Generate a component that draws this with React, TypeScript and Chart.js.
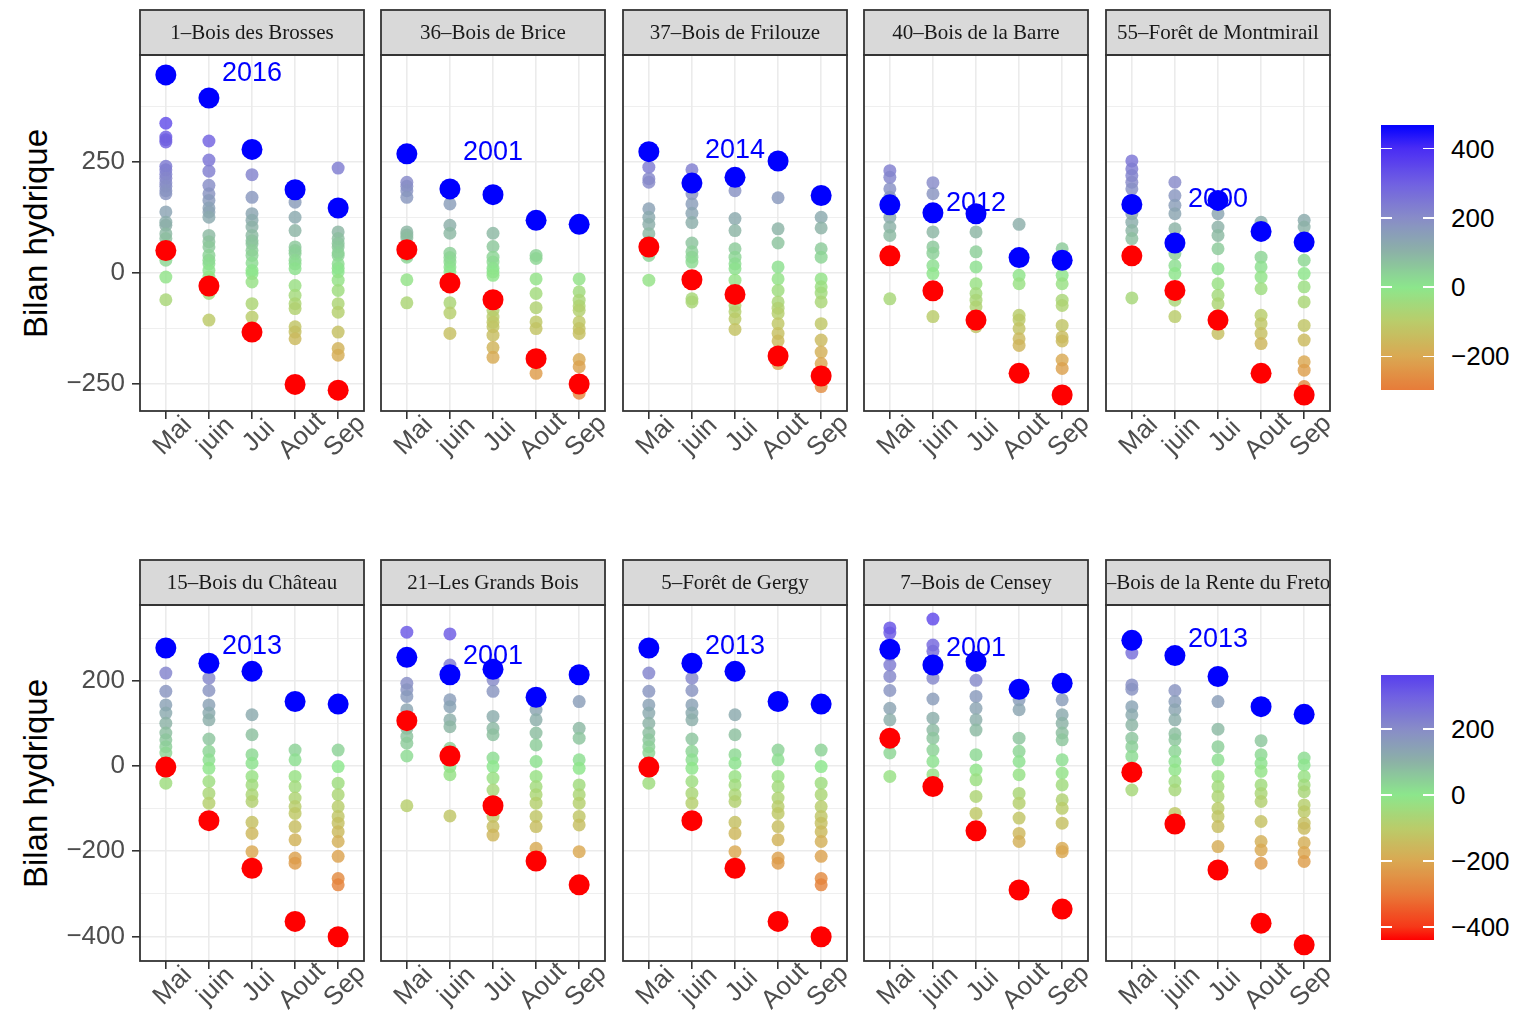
import React, { useEffect, useRef } from 'react';
import { Chart, registerables } from 'chart.js';

Chart.register(...registerables);

// ---------- data ----------
const MONTHS = ['Mai', 'juin', 'Jui', 'Aout', 'Sep'];

// Water balance per year, grouped by month (Mai..Sep); max / min year drawn separately.
const brossesValues = [
  [337, 306, 300, 295, 240, 232, 222, 213, 203, 195, 185, 178, 137, 114, 107, 88, 77, 62, 40, 28, -10, -61],
  [297, 254, 229, 197, 178, 163, 146, 137, 125, 84, 70, 58, 39, 28, 20, 5, -10, -47, -107],
  [221, 170, 133, 118, 103, 84, 72, 65, 50, 39, 22, 5, -2, -21, -70, -100],
  [159, 125, 95, 58, 50, 43, 28, 20, 9, -29, -51, -70, -81, -122, -134, -149],
  [236, 92, 77, 66, 58, 45, 39, 20, 10, 2, -17, -40, -70, -89, -134, -171, -186],
];
const brossesMax = [446, 394, 278, 187, 146];
const brossesMin = [50, -30, -134, -252, -265];

const briceValues = [
  [204, 195, 185, 170, 92, 85, 78, 40, 35, -16, -68],
  [155, 107, 89, 44, 34, 24, 13, 2, -68, -91, -137],
  [89, 59, 35, 24, 10, 2, -6, -85, -100, -112, -122, -141, -169, -191],
  [39, 32, -14, -47, -79, -111, -126, -227],
  [-14, -43, -62, -75, -85, -111, -126, -137, -196, -212, -272],
];
const briceMax = [268, 189, 176, 118, 109];
const briceMin = [52, -23, -61, -194, -251];

const frilouzeValues = [
  [238, 212, 204, 144, 125, 109, 88, 70, 39, -17],
  [232, 178, 155, 134, 113, 67, 47, 35, 24, -59, -66],
  [185, 122, 95, 54, 35, 20, 9, -17, -74, -88, -104, -128],
  [169, 99, 67, 13, -14, -40, -66, -80, -92, -115, -137, -154, -205],
  [125, 101, 54, 35, -14, -32, -46, -66, -115, -152, -179, -205, -257],
];
const frilouzeMax = [273, 202, 215, 252, 174];
const frilouzeMin = [58, -16, -49, -188, -233];

const barreValues = [
  [230, 215, 189, 170, 125, 103, 84, -59],
  [203, 178, 92, 58, 44, 16, -2, -99],
  [92, 47, 13, -25, -47, -62, -77, -122],
  [109, -6, -25, -96, -107, -126, -149, -164],
  [54, -6, -25, -62, -74, -119, -145, -154, -197, -216],
];
const barreMax = [153, 135, 133, 34, 28];
const barreMin = [38, -41, -107, -227, -276];

const montmirailValues = [
  [252, 234, 219, 204, 189, 133, 114, 95, 77, -57],
  [204, 174, 152, 133, 99, 43, 16, -2, -62, -99],
  [133, 103, 84, 54, 9, -25, -51, -70, -137],
  [114, 35, 13, -10, -36, -96, -115, -137, -160],
  [118, 103, 28, -2, -32, -66, -119, -152, -201, -220, -257],
];
const montmirailMax = [154, 67, 163, 93, 69];
const montmirailMin = [38, -40, -107, -227, -276];

const chateauValues = [
  [219, 176, 144, 125, 101, 78, 62, 46, 31, -40],
  [207, 178, 144, 125, 109, 64, 35, 15, -5, -36, -64, -87],
  [121, 74, 27, 7, -24, -44, -67, -83, -132, -158, -201],
  [38, 15, -24, -48, -75, -95, -111, -142, -173, -216, -228],
  [38, -1, -40, -67, -95, -118, -134, -154, -177, -212, -264, -279],
];
const chateauMax = [278, 242, 223, 152, 146];
const chateauMin = [-2, -128, -240, -365, -401];

const grandsBoisValues = [
  [315, 195, 180, 164, 133, 89, 70, 54, 24, -93],
  [311, 238, 156, 140, 109, 93, 42, -1, -20, -117],
  [203, 176, 117, 89, 74, 19, -1, -28, -56, -118, -142, -162],
  [133, 109, 78, 50, 11, -24, -48, -67, -87, -118, -142, -193],
  [152, 89, 66, 15, -5, -44, -67, -87, -118, -138, -201],
];
const grandsBoisMax = [256, 215, 228, 162, 215];
const grandsBoisMin = [107, 24, -93, -223, -279];

const gergyValues = [
  [219, 176, 144, 125, 101, 78, 62, 46, 31, -40],
  [207, 178, 144, 125, 109, 64, 35, 15, -5, -36, -64, -87],
  [121, 74, 27, 7, -24, -44, -67, -83, -132, -158, -201],
  [38, 15, -24, -48, -75, -95, -111, -142, -173, -216, -228],
  [38, -1, -40, -67, -95, -118, -134, -154, -177, -212, -264, -279],
];
const gergyMax = [278, 242, 223, 152, 146];
const gergyMin = [-2, -128, -240, -365, -401];

const censeyValues = [
  [325, 313, 262, 238, 211, 178, 136, 109, 54, 31, -24],
  [346, 285, 270, 207, 158, 113, 85, 66, 38, 11, -20],
  [202, 164, 136, 109, 85, 27, -9, -32, -71, -111],
  [156, 133, 66, 35, 11, -20, -64, -87, -122, -158, -177],
  [156, 121, 101, 78, 62, 15, -16, -44, -79, -99, -134, -193, -201],
];
const censeyMax = [275, 238, 246, 181, 195];
const censeyMin = [66, -48, -152, -291, -336];

const renteValues = [
  [266, 191, 181, 140, 121, 97, 66, 46, 23, -56],
  [178, 152, 133, 109, 76, 62, 35, 11, -9, -36, -56, -111],
  [152, 87, 46, 15, -24, -48, -71, -99, -118, -142, -189],
  [60, 27, 7, -12, -44, -64, -83, -130, -177, -197, -228],
  [19, 3, -24, -44, -60, -91, -107, -134, -146, -180, -203, -224],
];
const renteMax = [296, 260, 211, 140, 122];
const renteMin = [-14, -136, -244, -369, -420];

const TOP_Y_TICKS = [-250, 0, 250];
const TOP_Y_MINOR = [-125, 125, 375];
const BOTTOM_Y_TICKS = [-400, -200, 0, 200];
const BOTTOM_Y_MINOR = [-300, -100, 100, 300];
const TOP_BAR_TICKS = [400, 200, 0, -200];
const BOTTOM_BAR_TICKS = [200, 0, -200, -400];

type Site = { name: string; year: string; values: number[][]; max: number[]; min: number[] };

const TOP_SITES: Site[] = [
  { name: '1–Bois des Brosses', year: '2016', values: brossesValues, max: brossesMax, min: brossesMin },
  { name: '36–Bois de Brice', year: '2001', values: briceValues, max: briceMax, min: briceMin },
  { name: '37–Bois de Frilouze', year: '2014', values: frilouzeValues, max: frilouzeMax, min: frilouzeMin },
  { name: '40–Bois de la Barre', year: '2012', values: barreValues, max: barreMax, min: barreMin },
  { name: '55–Forêt de Montmirail', year: '2000', values: montmirailValues, max: montmirailMax, min: montmirailMin },
];
const BOTTOM_SITES: Site[] = [
  { name: '15–Bois du Château', year: '2013', values: chateauValues, max: chateauMax, min: chateauMin },
  { name: '21–Les Grands Bois', year: '2001', values: grandsBoisValues, max: grandsBoisMax, min: grandsBoisMin },
  { name: '5–Forêt de Gergy', year: '2013', values: gergyValues, max: gergyMax, min: gergyMin },
  { name: '7–Bois de Censey', year: '2001', values: censeyValues, max: censeyMax, min: censeyMin },
  { name: '9–Bois de la Rente du Fretoy', year: '2013', values: renteValues, max: renteMax, min: renteMin },
];

// ---------- styling / layout ----------
const SANS = '"Liberation Sans", Arial, Helvetica, sans-serif';
const SERIF = '"Liberation Serif", "Times New Roman", serif';
const GRID = '#ebebeb';
const FRAME = '#333333';
const TICK_TEXT = '#4d4d4d';

const PANEL_LEFTS = [140, 381, 623, 864, 1106];
const PANEL_WIDTH = 224;
const STRIP_HEIGHT = 45;
const Y_AXIS_SPACE = 100;
const RIGHT_SPACE = 40;
const BOTTOM_SPACE = 64;
const TICK_LEN = 8;

type Row = {
  sites: Site[];
  stripTop: number;
  plotTop: number;
  plotBottom: number;
  yMin: number;
  yMax: number;
  major: number[];
  minor: number[];
  bar: { top: number; height: number; min: number; max: number; ticks: number[] };
};

const ROWS: Row[] = [
  {
    sites: TOP_SITES, stripTop: 10, plotTop: 55, plotBottom: 411, yMin: -312, yMax: 491,
    major: TOP_Y_TICKS, minor: TOP_Y_MINOR,
    bar: { top: 125, height: 265, min: -297, max: 468, ticks: TOP_BAR_TICKS },
  },
  {
    sites: BOTTOM_SITES, stripTop: 560, plotTop: 605, plotBottom: 961, yMin: -458, yMax: 379,
    major: BOTTOM_Y_TICKS, minor: BOTTOM_Y_MINOR,
    bar: { top: 675, height: 265, min: -440, max: 364, ticks: BOTTOM_BAR_TICKS },
  },
];

// value -> colour gradient (red / orange / light green / slate / purple / blue)
const COLOR_STOPS: [number, number, number, number][] = [
  [-440, 255, 0, 0],
  [-400, 246, 56, 24],
  [-300, 232, 122, 56],
  [-200, 218, 168, 82],
  [-100, 186, 204, 106],
  [0, 140, 230, 140],
  [100, 140, 178, 166],
  [200, 136, 140, 200],
  [300, 112, 96, 226],
  [400, 74, 44, 244],
  [470, 0, 0, 255],
];

function colorFor(v: number, alpha = 1): string {
  const s = COLOR_STOPS;
  let c = s[s.length - 1].slice(1);
  if (v <= s[0][0]) c = s[0].slice(1);
  else {
    for (let i = 1; i < s.length; i++) {
      if (v <= s[i][0]) {
        const t = (v - s[i - 1][0]) / (s[i][0] - s[i - 1][0]);
        c = [1, 2, 3].map((k) => s[i - 1][k] + t * (s[i][k] - s[i - 1][k]));
        break;
      }
    }
  }
  return `rgba(${Math.round(c[0])}, ${Math.round(c[1])}, ${Math.round(c[2])}, ${alpha})`;
}

function formatNum(v: number): string {
  return v < 0 ? '\u2212' + Math.abs(v) : String(v);
}

function Panel({ site, row, col }: { site: Site; row: Row; col: number }) {
  const ref = useRef<HTMLCanvasElement>(null);
  const padLeft = col === 0 ? Y_AXIS_SPACE : 2;
  const plotHeight = row.plotBottom - row.plotTop;
  const width = padLeft + PANEL_WIDTH + RIGHT_SPACE;
  const height = 2 + STRIP_HEIGHT + plotHeight + BOTTOM_SPACE;
  const canvasLeft = PANEL_LEFTS[col] - padLeft;
  const canvasTop = row.stripTop - 2;

  useEffect(() => {
    const isMajor = (v: number) => row.major.includes(v);
    const topY = Math.max(...site.max);

    const decor = {
      id: 'facetDecor',
      beforeDatasetsDraw(chart: any) {
        const { ctx, scales } = chart;
        ctx.save();
        ctx.font = `27px ${SANS}`;
        ctx.fillStyle = '#0000ff';
        ctx.textAlign = 'center';
        ctx.textBaseline = 'middle';
        ctx.fillText(site.year, scales.x.getPixelForValue(2), scales.y.getPixelForValue(topY) - 1);
        ctx.restore();
      },
      afterDatasetsDraw(chart: any) {
        const { ctx, chartArea: a } = chart;
        ctx.save();
        // strip
        const sTop = a.top - STRIP_HEIGHT;
        ctx.fillStyle = '#d9d9d9';
        ctx.fillRect(a.left, sTop, a.right - a.left, STRIP_HEIGHT);
        ctx.save();
        ctx.beginPath();
        ctx.rect(a.left + 1, sTop, a.right - a.left - 2, STRIP_HEIGHT);
        ctx.clip();
        ctx.fillStyle = '#1a1a1a';
        ctx.font = `21px ${SERIF}`;
        ctx.textAlign = 'center';
        ctx.textBaseline = 'middle';
        ctx.fillText(site.name, (a.left + a.right) / 2, sTop + STRIP_HEIGHT / 2 + 1);
        ctx.restore();
        ctx.strokeStyle = FRAME;
        ctx.lineWidth = 1.8;
        ctx.strokeRect(a.left, sTop, a.right - a.left, STRIP_HEIGHT);
        // panel border
        ctx.strokeRect(a.left, a.top, a.right - a.left, a.bottom - a.top);
        ctx.restore();
      },
      afterDraw(chart: any) {
        const { ctx, chartArea: a, scales } = chart;
        ctx.save();
        ctx.font = `26px ${SANS}`;
        ctx.fillStyle = TICK_TEXT;
        ctx.textAlign = 'center';
        ctx.textBaseline = 'middle';
        MONTHS.forEach((m, i) => {
          ctx.save();
          ctx.translate(scales.x.getPixelForValue(i) + 7, a.bottom + TICK_LEN + 17);
          ctx.rotate(-Math.PI / 4);
          ctx.fillText(m, 0, 0);
          ctx.restore();
        });
        ctx.restore();
      },
    };

    const zeroPad = (s: any) => {
      s.paddingLeft = 0;
      s.paddingRight = 0;
      s.paddingTop = 0;
      s.paddingBottom = 0;
    };

    const chart = new Chart(ref.current as HTMLCanvasElement, {
      type: 'scatter',
      data: {
        datasets: [
          {
            label: 'max',
            data: site.max.map((y, i) => ({ x: i, y })),
            pointBackgroundColor: '#0000ff',
            pointRadius: 10.5,
            pointHoverRadius: 10.5,
            pointBorderWidth: 0,
            order: 0,
          },
          {
            label: 'min',
            data: site.min.map((y, i) => ({ x: i, y })),
            pointBackgroundColor: '#ff0000',
            pointRadius: 10.5,
            pointHoverRadius: 10.5,
            pointBorderWidth: 0,
            order: 1,
          },
          {
            label: 'bilan',
            data: site.values.flatMap((arr, i) => arr.map((y) => ({ x: i, y }))),
            pointBackgroundColor: (c: any) => (c.raw ? colorFor(c.raw.y, 0.82) : '#999'),
            pointRadius: 6.5,
            pointHoverRadius: 6.5,
            pointBorderWidth: 0,
            order: 2,
          },
        ],
      },
      options: {
        responsive: false,
        animation: false,
        events: [],
        layout: {
          autoPadding: false,
          padding: {
            left: col === 0 ? 0 : padLeft,
            right: RIGHT_SPACE,
            top: 2 + STRIP_HEIGHT,
            bottom: BOTTOM_SPACE - TICK_LEN,
          },
        },
        plugins: { legend: { display: false }, tooltip: { enabled: false } },
        scales: {
          x: {
            type: 'linear',
            min: -0.6,
            max: 4.6,
            afterBuildTicks: (s: any) => {
              s.ticks = MONTHS.map((_, i) => ({ value: i }));
            },
            afterFit: (s: any) => {
              s.height = TICK_LEN;
              zeroPad(s);
            },
            ticks: { display: false, autoSkip: false },
            grid: {
              color: GRID,
              lineWidth: 1.6,
              drawTicks: true,
              tickLength: TICK_LEN,
              tickColor: FRAME,
              tickWidth: 1.6,
            },
            border: { display: false },
          },
          y: {
            type: 'linear',
            min: row.yMin,
            max: row.yMax,
            afterBuildTicks: (s: any) => {
              s.ticks = [...row.minor, ...row.major].sort((p, q) => p - q).map((v) => ({ value: v }));
            },
            afterFit: (s: any) => {
              s.width = col === 0 ? Y_AXIS_SPACE : 0;
              zeroPad(s);
            },
            ticks: {
              display: col === 0,
              autoSkip: false,
              padding: 7,
              color: TICK_TEXT,
              font: { family: SANS, size: 26 },
              callback: (v: any) => (isMajor(Number(v)) ? formatNum(Number(v)) : ''),
            },
            grid: {
              color: GRID,
              lineWidth: (c: any) => (c.tick && isMajor(c.tick.value) ? 1.6 : 0.8),
              drawTicks: col === 0,
              tickLength: TICK_LEN,
              tickColor: (c: any) => (c.tick && isMajor(c.tick.value) ? FRAME : 'rgba(0,0,0,0)'),
              tickWidth: 1.6,
            },
            border: { display: false },
          },
        },
      },
      plugins: [decor],
    } as any);
    return () => chart.destroy();
  }, [site, row, col]);

  return (
    <canvas
      ref={ref}
      width={width}
      height={height}
      style={{ position: 'absolute', left: canvasLeft, top: canvasTop, width, height }}
    />
  );
}

function ColorBar({ bar }: { bar: Row['bar'] }) {
  const left = 1381;
  const barWidth = 53;
  const span = bar.max - bar.min;
  const stops: string[] = [];
  for (let v = bar.min; v <= bar.max + 0.01; v += 8) {
    stops.push(`${colorFor(Math.min(v, bar.max))} ${(((v - bar.min) / span) * 100).toFixed(2)}%`);
  }
  const yOf = (v: number) => ((bar.max - v) / span) * bar.height;
  return (
    <div style={{ position: 'absolute', left, top: bar.top, width: 140, height: bar.height }}>
      <div
        style={{
          position: 'absolute',
          left: 0,
          top: 0,
          width: barWidth,
          height: bar.height,
          background: `linear-gradient(to top, ${stops.join(', ')})`,
        }}
      />
      {bar.ticks.map((t) => (
        <React.Fragment key={t}>
          <div style={{ position: 'absolute', left: 0, top: yOf(t) - 0.75, width: 11, height: 1.5, background: '#fff' }} />
          <div style={{ position: 'absolute', left: barWidth - 11, top: yOf(t) - 0.75, width: 11, height: 1.5, background: '#fff' }} />
          <div
            style={{
              position: 'absolute',
              left: 70,
              top: yOf(t) - 15,
              height: 30,
              lineHeight: '30px',
              fontFamily: SANS,
              fontSize: 26,
              color: '#000',
              whiteSpace: 'nowrap',
            }}
          >
            {formatNum(t)}
          </div>
        </React.Fragment>
      ))}
    </div>
  );
}

function YTitle({ centerY }: { centerY: number }) {
  return (
    <div
      style={{
        position: 'absolute',
        left: 35 - 200,
        top: centerY - 16.5,
        width: 400,
        height: 33,
        lineHeight: '33px',
        textAlign: 'center',
        fontFamily: SANS,
        fontSize: 33,
        color: '#000',
        transform: 'rotate(-90deg)',
        whiteSpace: 'nowrap',
      }}
    >
      Bilan hydrique
    </div>
  );
}

export default function App() {
  return (
    <div
      style={{
        position: 'absolute',
        left: 0,
        top: 0,
        width: 1514,
        height: 1010,
        background: '#ffffff',
        overflow: 'hidden',
      }}
    >
      {ROWS.map((row, r) => (
        <React.Fragment key={r}>
          <YTitle centerY={(row.plotTop + row.plotBottom) / 2} />
          {row.sites.map((site, c) => (
            <Panel key={site.name} site={site} row={row} col={c} />
          ))}
          <ColorBar bar={row.bar} />
        </React.Fragment>
      ))}
    </div>
  );
}
